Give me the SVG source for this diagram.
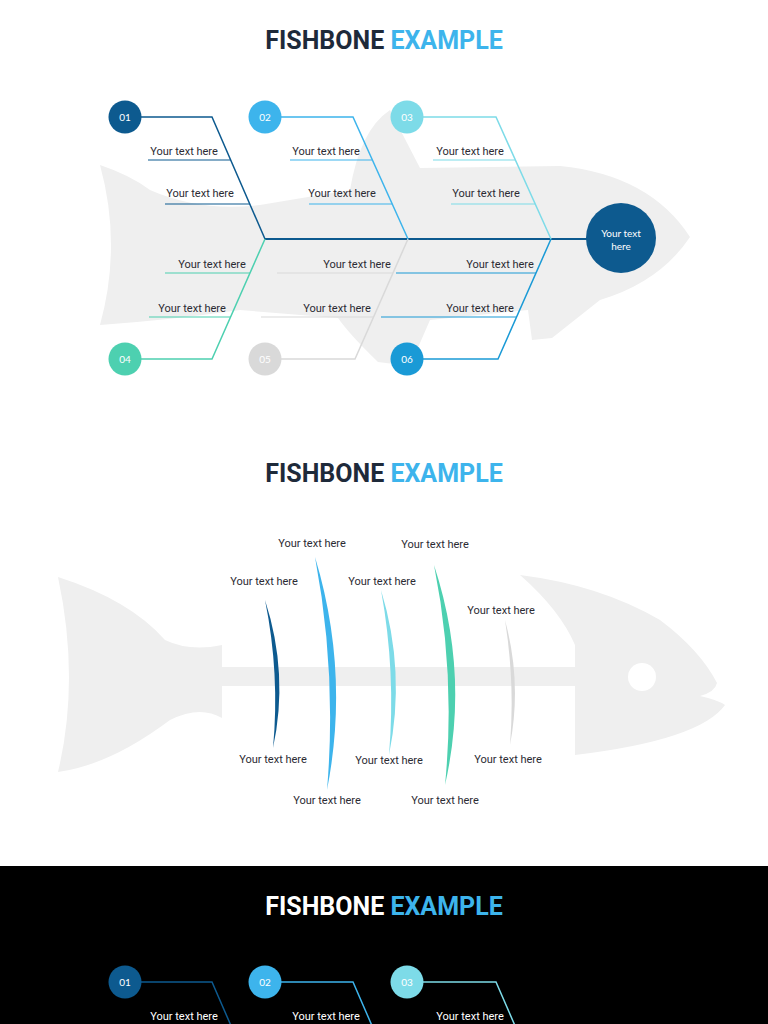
<svg xmlns="http://www.w3.org/2000/svg" width="768" height="1024" viewBox="0 0 768 1024">
<style>
.t{font-family:Roboto,"Liberation Sans",sans-serif;font-size:11px;fill:#2b2b33;text-anchor:middle}
.tw{fill:#ffffff}
.h{font-family:Roboto,"Liberation Sans",sans-serif;font-size:25px;font-weight:bold;text-anchor:middle}
.n{font-family:Lato,"Liberation Sans",sans-serif;font-size:10px;fill:#fff;text-anchor:middle}
.b{fill:none;stroke-width:1.5}
.s{stroke-width:1.2}
</style>
<rect width="768" height="1024" fill="#fff"/>
<text class="h" x="384" y="49"><tspan fill="#1e2a3a">FISHBONE </tspan><tspan fill="#3db4ec">EXAMPLE</tspan></text>
<path id="fish1" fill="#efefef" d="M100,165 Q130,175 150,190 Q200,212 260,205 L350,190 Q360,130 390,110 L420,168 L560,166 Q650,175 690,237 Q660,282 600,300 L552,338 L532,340 L528,310 L430,320 L410,366 L378,362 Q350,335 338,318 L240,310 Q170,320 100,325 Q122,245 100,165 Z"/>
<g id="connectors">
<line x1="265" y1="239" x2="590" y2="239" stroke="#0d5a8f" stroke-width="2"/>
<polyline class="b" stroke="#0d5a8f" points="141,117 212,117 265,239"/>
<line class="s" stroke="#0d5a8f" x1="148" y1="160" x2="231" y2="160"/>
<line class="s" stroke="#0d5a8f" x1="165" y1="204" x2="250" y2="204"/>
<polyline class="b" stroke="#3db4ec" points="281,117 353,117 408,239"/>
<line class="s" stroke="#3db4ec" x1="290" y1="160" x2="372" y2="160"/>
<line class="s" stroke="#3db4ec" x1="309" y1="204" x2="392" y2="204"/>
<polyline class="b" stroke="#7ddbe8" points="423,117 496,117 551,239"/>
<line class="s" stroke="#7ddbe8" x1="433" y1="160" x2="515" y2="160"/>
<line class="s" stroke="#7ddbe8" x1="451" y1="204" x2="535" y2="204"/>
<polyline class="b" stroke="#4dd0b0" points="141,359 212,359 265,239"/>
<line class="s" stroke="#4dd0b0" x1="165" y1="273" x2="250" y2="273"/>
<line class="s" stroke="#4dd0b0" x1="149" y1="317" x2="231" y2="317"/>
<polyline class="b" stroke="#d9d9d9" points="281,359 355,359 408,239"/>
<line class="s" stroke="#d9d9d9" x1="277" y1="273" x2="393" y2="273"/>
<line class="s" stroke="#d9d9d9" x1="261" y1="317" x2="374" y2="317"/>
<polyline class="b" stroke="#1a9ad6" points="423,359 498,359 551,239"/>
<line class="s" stroke="#1a9ad6" x1="396" y1="273" x2="536" y2="273"/>
<line class="s" stroke="#1a9ad6" x1="381" y1="317" x2="517" y2="317"/>
</g>
<g id="n01"><circle cx="125" cy="117" r="16.5" fill="#0d5a8f"/><text class="n" x="125" y="121">01</text></g>
<g id="n02"><circle cx="265" cy="117" r="16.5" fill="#3db4ec"/><text class="n" x="265" y="121">02</text></g>
<g id="n03"><circle cx="407" cy="117" r="16.5" fill="#7ddbe8"/><text class="n" x="407" y="121">03</text></g>
<g id="n04"><circle cx="125" cy="359" r="16.5" fill="#4dd0b0"/><text class="n" x="125" y="363">04</text></g>
<g id="n05"><circle cx="265" cy="359" r="16.5" fill="#d9d9d9"/><text class="n" x="265" y="363">05</text></g>
<g id="n06"><circle cx="407" cy="359" r="16.5" fill="#1a9ad6"/><text class="n" x="407" y="363">06</text></g>
<g id="head"><circle cx="621" cy="238" r="35" fill="#0d5a8f"/><text class="n" x="621" y="237">Your text</text><text class="n" x="621" y="250">here</text></g>
<g id="labels1">
<text class="t" x="184" y="155">Your text here</text><text class="t" x="326" y="155">Your text here</text><text class="t" x="470" y="155">Your text here</text>
<text class="t" x="200" y="197">Your text here</text><text class="t" x="342" y="197">Your text here</text><text class="t" x="486" y="197">Your text here</text>
<text class="t" x="212" y="268">Your text here</text><text class="t" x="357" y="268">Your text here</text><text class="t" x="500" y="268">Your text here</text>
<text class="t" x="192" y="312">Your text here</text><text class="t" x="337" y="312">Your text here</text><text class="t" x="480" y="312">Your text here</text>
</g>
<text class="h" x="384" y="482"><tspan fill="#1e2a3a">FISHBONE </tspan><tspan fill="#3db4ec">EXAMPLE</tspan></text>
<path id="fish2" fill="#efefef" d="M58,577 Q130,600 165,640 Q190,652 222,645 L222,667 L575,667 L575,645 Q560,610 520,575 Q600,585 660,620 Q700,650 717,683 Q715,692 700,696 Q718,700 725,705 Q700,740 575,755 L575,686 L222,686 L222,718 Q200,705 170,720 Q110,765 58,772 Q80,680 58,577 Z"/>
<circle cx="642" cy="677" r="14" fill="#fff"/>
<g id="bones">
<path fill="#0d5a8f" d="M265,600 Q289,674 273,748 Q280,674 265,600 Z"/>
<path fill="#3db4ec" d="M315,557 Q350,673 327,790 Q337,673 315,557 Z"/>
<path fill="#7ddbe8" d="M381,590 Q406,672 389,755 Q396,672 381,590 Z"/>
<path fill="#4dd0b0" d="M434,565 Q470,675 445,785 Q456,675 434,565 Z"/>
<path fill="#d9d9d9" d="M505,620 Q522,683 510,745 Q515,683 505,620 Z"/>
</g>
<g id="labels2">
<text class="t" x="312" y="547">Your text here</text><text class="t" x="435" y="548">Your text here</text>
<text class="t" x="264" y="585">Your text here</text><text class="t" x="382" y="585">Your text here</text><text class="t" x="501" y="614">Your text here</text>
<text class="t" x="273" y="763">Your text here</text><text class="t" x="389" y="764">Your text here</text><text class="t" x="508" y="763">Your text here</text>
<text class="t" x="327" y="804">Your text here</text><text class="t" x="445" y="804">Your text here</text>
</g>
<rect x="0" y="866" width="768" height="158" fill="#000"/>
<text class="h" x="384" y="915"><tspan fill="#ffffff">FISHBONE </tspan><tspan fill="#3db4ec">EXAMPLE</tspan></text>
<g id="connectors3">
<polyline class="b" stroke="#0d5a8f" points="141,982 212,982 232,1028"/>
<polyline class="b" stroke="#3db4ec" points="281,982 353,982 373,1028"/>
<polyline class="b" stroke="#7ddbe8" points="423,982 496,982 516,1028"/>
<line class="s" stroke="#0d5a8f" x1="148" y1="1025" x2="231" y2="1025"/>
<line class="s" stroke="#3db4ec" x1="290" y1="1025" x2="372" y2="1025"/>
<line class="s" stroke="#7ddbe8" x1="433" y1="1025" x2="515" y2="1025"/>
</g>
<g id="d01"><circle cx="125" cy="982" r="16.5" fill="#0d5a8f"/><text class="n" x="125" y="986">01</text></g>
<g id="d02"><circle cx="265" cy="982" r="16.5" fill="#3db4ec"/><text class="n" x="265" y="986">02</text></g>
<g id="d03"><circle cx="407" cy="982" r="16.5" fill="#7ddbe8"/><text class="n" x="407" y="986">03</text></g>
<text class="t tw" x="184" y="1020">Your text here</text><text class="t tw" x="326" y="1020">Your text here</text><text class="t tw" x="470" y="1020">Your text here</text>
</svg>
